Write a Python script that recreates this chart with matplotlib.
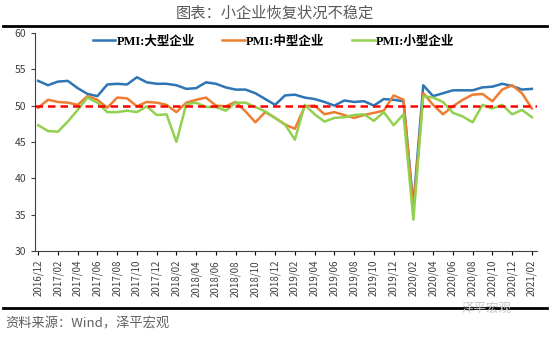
import matplotlib.pyplot as plt
import numpy as np

plt.rcParams['font.family'] = ['Noto Sans CJK SC', 'DejaVu Sans']

# 2016/12 - 2021/02 monthly
months = []
y, m = 2016, 12
for _ in range(51):
    months.append(f"{y}/{m:02d}")
    m += 1
    if m > 12:
        y, m = y + 1, 1

large = [53.4, 52.8, 53.3, 53.4, 52.4, 51.6, 51.3, 52.9, 53.0, 52.9,
         53.9, 53.2, 53.0, 53.0, 52.8, 52.3, 52.4, 53.2, 53.0, 52.5,
         52.2, 52.2, 51.7, 50.9, 50.1, 51.4, 51.5, 51.1, 50.9, 50.5,
         50.0, 50.7, 50.5, 50.6, 50.0, 50.9, 50.8, 50.6, 36.2, 52.8,
         51.3, 51.7, 52.1, 52.1, 52.1, 52.5, 52.6, 53.0, 52.7, 52.2,
         52.3]
medium = [49.7, 50.8, 50.5, 50.4, 50.1, 51.3, 50.8, 49.7, 51.1, 51.0,
          49.9, 50.5, 50.4, 50.1, 49.1, 50.4, 50.8, 51.1, 50.0, 49.9,
          50.5, 49.2, 47.7, 49.1, 48.3, 47.4, 46.8, 49.9, 50.0, 48.8,
          49.1, 48.7, 48.3, 48.7, 49.0, 49.3, 51.4, 50.8, 35.6, 51.7,
          50.1, 48.8, 49.9, 50.8, 51.5, 51.6, 50.6, 52.2, 52.8, 51.7,
          49.6]
small = [47.3, 46.5, 46.4, 47.8, 49.4, 51.1, 50.4, 49.1, 49.1, 49.3,
         49.1, 49.9, 48.7, 48.8, 45.0, 50.2, 50.4, 49.8, 49.8, 49.3,
         50.4, 50.4, 49.8, 49.2, 48.3, 47.4, 45.3, 50.1, 48.8, 47.8,
         48.3, 48.4, 48.7, 48.8, 47.9, 49.1, 47.3, 48.8, 34.3, 51.3,
         51.1, 50.5, 49.0, 48.5, 47.7, 50.1, 49.6, 50.1, 48.8, 49.4,
         48.4]

x = np.arange(len(months))

fig = plt.figure(figsize=(5.5, 3.5), dpi=100)
ax = fig.add_axes([0.064, 0.283, 0.912, 0.623])

ax.plot(x, large, color='#2e75b6', lw=1.8, label='PMI:大型企业')
ax.plot(x, medium, color='#ed7d31', lw=1.8, label='PMI:中型企业')
ax.plot(x, small, color='#92d050', lw=1.8, label='PMI:小型企业')
ax.axhline(50, color='#ff0000', lw=1.8, ls=(0, (3, 2)))

ax.set_xlim(-0.3, 50.5)
ax.set_ylim(30, 60)
ax.set_yticks(range(30, 61, 5))
ax.set_xticks(x[::2])
ax.set_xticklabels(months[::2], rotation=90, fontsize=7, color='#404040')
ax.tick_params(axis='y', labelsize=7.5, colors='#404040', length=3)
ax.tick_params(axis='x', length=3)
for s in ['top', 'right']:
    ax.spines[s].set_visible(False)
for s in ['left', 'bottom']:
    ax.spines[s].set_color('#404040')

leg = ax.legend(loc='upper center', bbox_to_anchor=(0.475, 1.04), ncol=3,
                frameon=False, handlelength=1.8, handletextpad=0.1,
                columnspacing=2.2,
                prop={'family': ['Liberation Serif', 'Noto Sans CJK SC'],
                      'weight': 'bold', 'size': 9})

fig.text(0.5, 0.962, '图表：小企业恢复状况不稳定', ha='center', va='center',
         fontsize=11, color='#595959')
fig.add_artist(plt.Line2D([0.005, 0.995], [0.925, 0.925], color='black', lw=2))
fig.add_artist(plt.Line2D([0.005, 0.995], [0.12, 0.12], color='black', lw=2))
fig.text(0.84, 0.12, '泽平宏观', ha='left', va='center', fontsize=9,
         color='#c8c8c8')
fig.text(0.01, 0.075, '资料来源：Wind，泽平宏观', ha='left', va='center',
         fontsize=9.5, color='#606060', style='italic')

fig.savefig('out.png', dpi=100)
